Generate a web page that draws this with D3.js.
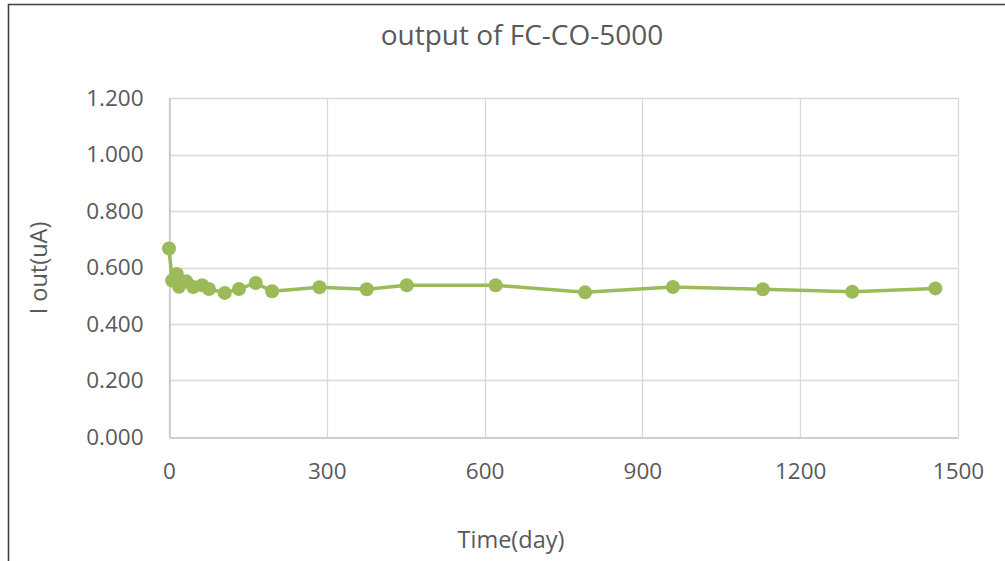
<!DOCTYPE html>
<html>
<head>
<meta charset="utf-8">
<script src="https://cdn.jsdelivr.net/npm/d3@7"></script>
<style>
html,body{margin:0;padding:0;background:#fff;}
svg{display:block;}
text{font-family:"Open Sans","Noto Sans",sans-serif;}
</style>
</head>
<body>
<svg id="chart" width="1005" height="561"></svg>
<script>
const days = [0, 6, 15, 19, 33, 46, 63, 76, 106, 133, 165, 196, 286, 376, 452, 621, 791, 958, 1129, 1299, 1457];
const iout = [0.667, 0.554, 0.577, 0.532, 0.551, 0.531, 0.537, 0.524, 0.510, 0.524, 0.545, 0.516, 0.530, 0.523, 0.537, 0.537, 0.512, 0.531, 0.523, 0.514, 0.526];
const xTicks = [0, 300, 600, 900, 1200, 1500];
const yTicks = [0, 0.2, 0.4, 0.6, 0.8, 1.0, 1.2];
const title = "output of FC-CO-5000";
const xTitle = "Time(day)";
const yTitle = "I out(uA)";

const svg = d3.select("#chart");
const W = 1005, H = 561;
const m = {left: 169, right: W - 958, top: 98, bottom: H - 437};

svg.append("path")
  .attr("d", `M8.5,${H+2} L8.5,4.5 L${W+2},4.5`)
  .attr("fill", "none").attr("stroke", "#404040").attr("stroke-width", 1.6);

const x = d3.scaleLinear().domain([0, 1500]).range([m.left, W - m.right]);
const y = d3.scaleLinear().domain([0, 1.2]).range([H - m.bottom, m.top]);

const g = svg.append("g");
g.selectAll("line.h").data(yTicks.slice(1)).enter().append("line")
  .attr("x1", x(0)).attr("x2", x(1500))
  .attr("y1", d => Math.round(y(d)) + 0.5).attr("y2", d => Math.round(y(d)) + 0.5)
  .attr("stroke", "#d9d9d9").attr("stroke-width", 1.3);
g.selectAll("line.v").data(xTicks).enter().append("line")
  .attr("y1", y(0)).attr("y2", y(1.2))
  .attr("x1", d => Math.round(x(d)) + 0.5).attr("x2", d => Math.round(x(d)) + 0.5)
  .attr("stroke", "#d9d9d9").attr("stroke-width", 1.3);

const xAxis = d3.axisBottom(x).tickValues(xTicks).tickSize(0).tickPadding(26).tickFormat(d3.format("d"));
const yAxis = d3.axisLeft(y).tickValues(yTicks).tickSize(0).tickPadding(26).tickFormat(d3.format(".3f"));

const gx = svg.append("g").attr("transform", `translate(0,${Math.round(y(0)) + 0.5})`).call(xAxis);
gx.attr("font-size", null).attr("font-family", null);
gx.select(".domain").attr("stroke", "#bfbfbf").attr("stroke-width", 1.3);
gx.selectAll("text").attr("fill", "#595959").style("font-size", "22.5px");

const gy = svg.append("g").attr("transform", `translate(${Math.round(x(0)) + 0.5},0)`).call(yAxis);
gy.attr("font-size", null).attr("font-family", null);
gy.select(".domain").attr("stroke", "#bfbfbf").attr("stroke-width", 1.3);
gy.selectAll("text").attr("fill", "#595959").style("font-size", "22.5px");

const pts = days.map((d, i) => [d, iout[i]]);
svg.append("path").datum(pts)
  .attr("d", d3.line().x(d => x(d[0])).y(d => y(d[1])))
  .attr("fill", "none").attr("stroke", "#9bbb59").attr("stroke-width", 3.5).attr("stroke-linejoin", "round");
svg.selectAll("circle.pt").data(pts).enter().append("circle")
  .attr("cx", d => x(d[0])).attr("cy", d => y(d[1])).attr("r", 7)
  .attr("fill", "#9bbb59");

svg.append("text").attr("x", 522).attr("y", 45).attr("text-anchor", "middle")
  .attr("fill", "#595959").style("font-size", "28px").text(title);
svg.append("text").attr("x", 511).attr("y", 548).attr("text-anchor", "middle")
  .attr("fill", "#595959").style("font-size", "23.5px").text(xTitle);
svg.append("text").attr("transform", "translate(47,268) rotate(-90)").attr("text-anchor", "middle")
  .attr("fill", "#595959").style("font-size", "23.5px").text(yTitle);
</script>
</body>
</html>
